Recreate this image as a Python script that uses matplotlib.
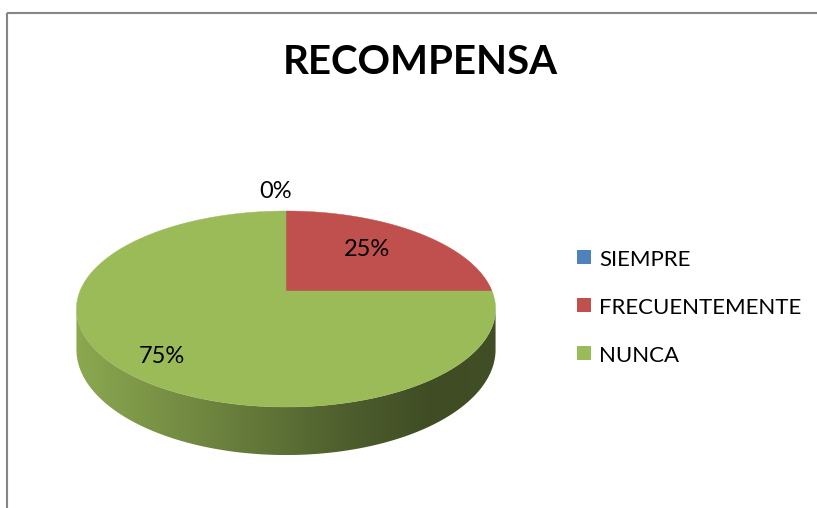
import numpy as np
import matplotlib
matplotlib.use("Agg")
import matplotlib.pyplot as plt
from matplotlib.patches import Polygon, Rectangle
from matplotlib.colors import to_rgb

# ---- data ----
title = "RECOMPENSA"
categories = ["SIEMPRE", "FRECUENTEMENTE", "NUNCA"]
values = [0, 25, 75]
pct_labels = ["0%", "25%", "75%"]
colors = ["#4F81BD", "#C0504D", "#9BBB59"]

plt.rcParams['font.family'] = ['Lato', 'DejaVu Sans']

W, H = 817, 508
fig = plt.figure(figsize=(W / 100, H / 100), dpi=100)
ax = fig.add_axes([0, 0, 1, 1])
ax.set_xlim(0, W)
ax.set_ylim(H, 0)
ax.axis('off')

# chart-area border (extends past the right/bottom edges)
ax.add_patch(Rectangle((7, 13), 900, 600, fill=False, edgecolor='#868686',
                       linewidth=1.5, zorder=0))

# ---- perspective 3D pie geometry ----
cx, cy = 286, 291
A, B, k = 206, 94.7, 0.1837
T = 39.2


def proj(theta_deg, r=1.0, drop=0.0):
    t = np.radians(theta_deg)
    u = r * np.cos(t)
    v = r * np.sin(t)
    w = 1 + k * v
    return cx + A * u / w, cy - B * v / w + drop * T / w


thL = 180 + np.degrees(np.arcsin(k))
thR = 360 - np.degrees(np.arcsin(k))

total = float(sum(values))
start = 90.0
spans = []
for v in values:
    ext = 360.0 * v / total
    spans.append((start - ext, start))
    start -= ext


def side_color(x, base):
    xL, xR = proj(thL)[0], proj(thR)[0]
    f = np.clip((x - xL) / (xR - xL), 0, 1)
    fs = np.array([0.0, 0.3, 0.65, 0.85, 1.0])
    ms = np.array([0.90, 0.72, 0.50, 0.41, 0.42])
    m = np.interp(f, fs, ms)
    return np.outer(m, np.array(to_rgb(base)))

# sides
for (a0, a1), col, v in zip(spans, colors, values):
    if v <= 0:
        continue
    for sh in (-360, 0, 360):
        lo = max(a0 + sh, thL)
        hi = min(a1 + sh, thR)
        if hi <= lo:
            continue
        th = np.linspace(lo, hi, 200)
        xt, yt = proj(th)
        xb, yb = proj(th, drop=1.0)
        poly = np.vstack([np.column_stack([xt, yt]),
                          np.column_stack([xb[::-1], yb[::-1]])])
        patch = Polygon(poly, closed=True, facecolor='none', edgecolor='none')
        ax.add_patch(patch)
        xs = np.linspace(poly[:, 0].min(), poly[:, 0].max(), 500)
        img = side_color(xs, col)[None, :, :]
        im = ax.imshow(img, extent=[xs[0], xs[-1], poly[:, 1].max(), poly[:, 1].min()],
                       aspect='auto', zorder=1, interpolation='bilinear')
        im.set_clip_path(patch)

# top faces
for (a0, a1), col, v in zip(spans, colors, values):
    if v <= 0:
        continue
    th = np.linspace(a1, a0, 300)
    xt, yt = proj(th)
    pts = np.vstack([[proj(0, r=0.0)], np.column_stack([xt, yt])])
    ax.add_patch(Polygon(pts, closed=True, facecolor=col, edgecolor=col,
                         linewidth=0.3, zorder=2))

# data labels
label_r = [1.31, 0.60, 0.78]
label_off = [(-10, 0), (0, -4), (2, 7)]
for (a0, a1), lab, r, (dx, dy) in zip(spans, pct_labels, label_r, label_off):
    mid = (a0 + a1) / 2
    x, y = proj(mid, r=r)
    ax.text(x + dx, y + dy, lab, ha='center', va='center', fontsize=17,
            color='black', zorder=5)

# title
ax.text(420, 74, title, ha='center', va='baseline', fontsize=29,
        fontweight='bold', color='black')

# legend
for i, (cat, col) in enumerate(zip(categories, colors)):
    top = 250 + 48 * i
    ax.add_patch(Rectangle((577, top), 14, 14, facecolor=col, edgecolor='none'))
    ax.text(599, top + 16, cat, ha='left', va='baseline', fontsize=16,
            color='black')

fig.savefig('out.png', dpi=100)
